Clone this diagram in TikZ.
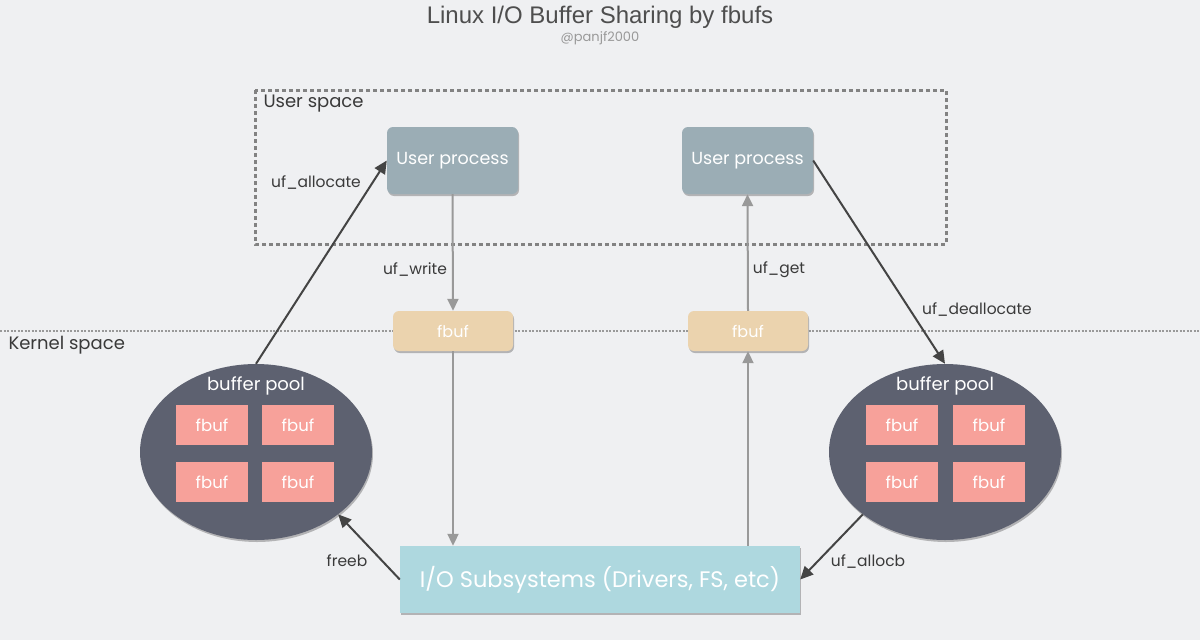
\documentclass[tikz,border=0pt]{standalone}
\usepackage{fontspec}
\setmainfont{Poppins}
\newfontfamily\titlefont{Liberation Sans}
\usetikzlibrary{arrows.meta,shapes.geometric,shadows}
\definecolor{bgc}{HTML}{EFF0F2}
\definecolor{upc}{HTML}{9BADB5}
\definecolor{kfc}{HTML}{EBD3AE}
\definecolor{poolc}{HTML}{5D6170}
\definecolor{pinkc}{HTML}{F7A19A}
\definecolor{ioc}{HTML}{AED8DF}
\definecolor{darkc}{HTML}{444444}
\definecolor{grayc}{HTML}{999999}
\definecolor{txtc}{HTML}{3A3A3A}
\tikzset{
  shd/.style={drop shadow={shadow xshift=1pt,shadow yshift=-2pt,opacity=0.25,fill=black}},
  upbox/.style={shd,fill=upc,rounded corners=6pt,minimum width=131pt,minimum height=67pt,text=white,font=\fontsize{17.5}{20}\selectfont,inner sep=0pt},
  kfbox/.style={shd,fill=kfc,rounded corners=6pt,minimum width=120pt,minimum height=40pt,text=white,font=\fontsize{16}{19}\selectfont,inner sep=0pt},
  pinkbox/.style={fill=pinkc,minimum width=72pt,minimum height=40pt,text=white,font=\fontsize{16.5}{19}\selectfont,inner sep=0pt},
  pool/.style={shd,ellipse,fill=poolc,minimum width=232pt,minimum height=176pt,inner sep=0pt},
  iobox/.style={shd,fill=ioc,minimum width=400pt,minimum height=67pt,text=white,font=\fontsize{22.5}{26}\selectfont,inner sep=0pt},
  lbl/.style={text=txtc,font=\fontsize{15.5}{18}\selectfont},
  darr/.style={draw=darkc,line width=2pt,-{Triangle[length=13pt,width=12pt]}},
  garr/.style={draw=grayc,line width=2pt,-{Triangle[length=12pt,width=11pt]}},
}
\begin{document}
\begin{tikzpicture}[x=1pt,y=-1pt]
\useasboundingbox[fill=bgc] (0,0) rectangle (1200,640);
% title
\node[text=txtc!90,font=\titlefont\fontsize{24}{28}\selectfont] (title) at (600,17) {Linux I/O Buffer Sharing by fbufs};
\node[text=grayc,font=\fontsize{13}{15}\selectfont] (sub) at (600,38) {@panjf2000};
% user space
\draw[draw=grayc!85!black,line width=3pt,dash pattern=on 4pt off 3pt] (255,90) rectangle (946,244);
\node[lbl,anchor=west,font=\fontsize{18}{21}\selectfont] (us) at (260,104) {User space};
% kernel line
\coordinate (kl) at (0,331);
\coordinate (kr) at (1200,331);
\draw[draw=grayc,line width=1.5pt,dash pattern=on 2pt off 1.5pt] (kl) -- (kr);
\node[lbl,anchor=west,font=\fontsize{18}{21}\selectfont] (ks) at (5,345) {Kernel space};
% nodes
\node[upbox] (up1) at (452.5,160.5) {User process};
\node[upbox] (up2) at (747.5,160.5) {User process};
\node[kfbox] (kf1) at (453,331) {fbuf};
\node[kfbox] (kf2) at (748,331) {fbuf};
\node[pool] (lpool) at (256,452) {};
\node[pool] (rpool) at (945,452) {};
\node[text=white,font=\fontsize{18}{21}\selectfont] (lpl) at (256,386) {buffer pool};
\node[text=white,font=\fontsize{18}{21}\selectfont] (rpl) at (945,386) {buffer pool};
\node[pinkbox] (lp1) at (212,425) {fbuf};
\node[pinkbox] (lp2) at (298,425) {fbuf};
\node[pinkbox] (lp3) at (212,482) {fbuf};
\node[pinkbox] (lp4) at (298,482) {fbuf};
\node[pinkbox] (rp1) at (902,425) {fbuf};
\node[pinkbox] (rp2) at (989,425) {fbuf};
\node[pinkbox] (rp3) at (902,482) {fbuf};
\node[pinkbox] (rp4) at (989,482) {fbuf};
\node[iobox] (io) at (600,579.5) {I/O Subsystems (Drivers, FS, etc)};
% connectors
\draw[darr] (lpool.north) -- (up1.west);
\draw[darr] (up2.east) -- (rpool.north);
\draw[garr] (up1.south) -- (kf1.north);
\draw[garr] (kf1.south) -- (io.north -| kf1.south);
\draw[garr] (io.north -| kf2.south) -- (kf2.south);
\draw[garr] (kf2.north) -- (up2.south);
\draw[darr] (rpool.south west) -- (io.east);
\draw[darr] (io.west) -- (lpool.south east);
% labels
\node[lbl] (l1) at (316,183) {uf\_allocate};
\node[lbl] (l2) at (415,270) {uf\_write};
\node[lbl] (l3) at (779,270) {uf\_get};
\node[lbl] (l4) at (977,310) {uf\_deallocate};
\node[lbl] (l5) at (347,561) {freeb};
\node[lbl] (l6) at (868,562) {uf\_allocb};
\end{tikzpicture}
\end{document}
